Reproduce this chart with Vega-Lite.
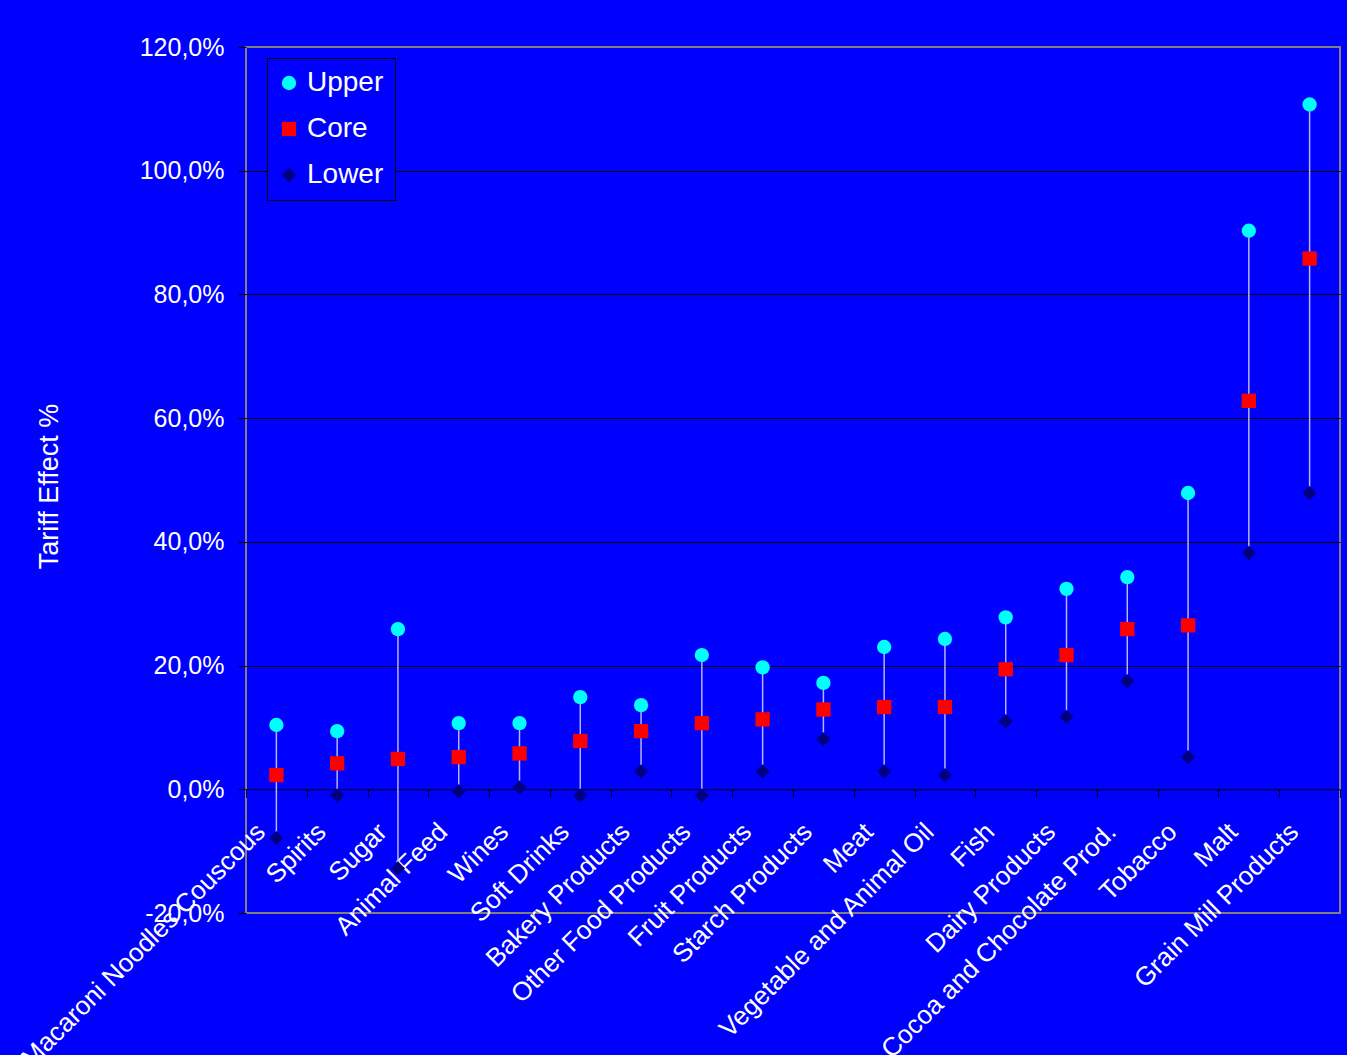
{
  "$schema": "https://vega.github.io/schema/vega-lite/v6.json",
  "width": 1094,
  "height": 866,
  "autosize": {"type": "none"},
  "padding": {"left": 246, "top": 47, "right": 7, "bottom": 142},
  "background": "#0000FF",
  "config": {
    "font": "Liberation Sans",
    "view": {"stroke": "#808080", "strokeWidth": 2}
  },
  "data": {
    "values": [
      {"category": "Macaroni Noodles Couscous", "Upper": 10.4, "Core": 2.3, "Lower": -7.9},
      {"category": "Spirits", "Upper": 9.4, "Core": 4.2, "Lower": -1.0},
      {"category": "Sugar", "Upper": 25.9, "Core": 4.9, "Lower": -12.8},
      {"category": "Animal Feed", "Upper": 10.7, "Core": 5.2, "Lower": -0.3},
      {"category": "Wines", "Upper": 10.7, "Core": 5.8, "Lower": 0.3},
      {"category": "Soft Drinks", "Upper": 14.9, "Core": 7.8, "Lower": -1.0},
      {"category": "Bakery Products", "Upper": 13.6, "Core": 9.4, "Lower": 2.9},
      {"category": "Other Food Products", "Upper": 21.7, "Core": 10.7, "Lower": -1.0},
      {"category": "Fruit Products", "Upper": 19.7, "Core": 11.3, "Lower": 2.9},
      {"category": "Starch Products", "Upper": 17.2, "Core": 12.9, "Lower": 8.1},
      {"category": "Meat", "Upper": 23.0, "Core": 13.3, "Lower": 2.9},
      {"category": "Vegetable and Animal Oil", "Upper": 24.3, "Core": 13.3, "Lower": 2.3},
      {"category": "Fish", "Upper": 27.8, "Core": 19.4, "Lower": 11.0},
      {"category": "Dairy Products", "Upper": 32.4, "Core": 21.7, "Lower": 11.7},
      {"category": "Cocoa and Chocolate Prod.", "Upper": 34.3, "Core": 25.9, "Lower": 17.5},
      {"category": "Tobacco", "Upper": 47.9, "Core": 26.5, "Lower": 5.2},
      {"category": "Malt", "Upper": 90.3, "Core": 62.8, "Lower": 38.2},
      {"category": "Grain Mill Products", "Upper": 110.7, "Core": 85.8, "Lower": 47.9}
    ]
  },
  "encoding": {
    "x": {
      "field": "category",
      "type": "nominal",
      "sort": null,
      "title": null,
      "scale": {"paddingInner": 0, "paddingOuter": 0},
      "axis": {
        "offset": -123.71,
        "domainColor": "black",
        "domainWidth": 1,
        "tickColor": "black",
        "tickSize": 8,
        "tickBand": "extent",
        "labelAngle": -45,
        "labelAlign": "right",
        "labelBaseline": "top",
        "labelPadding": 21,
        "labelOffset": -25,
        "labelFontSize": 26,
        "labelColor": "white",
        "labelLimit": 1000,
        "labelOverlap": false,
        "labelBound": false,
        "grid": false
      }
    }
  },
  "layer": [
    {
      "mark": {"type": "rule", "color": "#b4b4ff", "strokeWidth": 1.5},
      "encoding": {
        "y": {
          "field": "Lower",
          "type": "quantitative",
          "title": "Tariff Effect %",
          "scale": {"domain": [-20, 120], "nice": false, "zero": false},
          "axis": {
            "values": [-20, 0, 20, 40, 60, 80, 100, 120],
            "labelExpr": "replace(replace(format(datum.value, '.1f'), '.', ','), '\u2212', '-') + '%'",
            "domain": false,
            "tickColor": "black",
            "tickSize": 8,
            "labelPadding": 14,
            "labelFontSize": 25,
            "labelColor": "white",
            "grid": true,
            "gridColor": "black",
            "gridWidth": 1,
            "gridOpacity": {"condition": {"test": "datum.value === -20 || datum.value === 120 || datum.value === 0", "value": 0}, "value": 1},
            "titleFontSize": 27,
            "titleFontWeight": "normal",
            "titleColor": "white",
            "titleAngle": 270,
            "titleBaseline": "alphabetic",
            "titleAlign": "center",
            "titleX": -189,
            "titleY": 439
          }
        },
        "y2": {"field": "Upper"}
      }
    },
    {
      "transform": [{"fold": ["Upper", "Core", "Lower"], "as": ["series", "value"]}],
      "mark": {"type": "point", "filled": true, "size": 205, "opacity": 1, "strokeWidth": 0},
      "encoding": {
        "y": {"field": "value", "type": "quantitative", "title": "Tariff Effect %"},
        "color": {
          "field": "series",
          "type": "nominal",
          "scale": {"domain": ["Upper", "Core", "Lower"], "range": ["#00FFFF", "#FF0000", "#000080"]},
          "legend": {
            "title": null,
            "orient": "none",
            "legendX": 21,
            "legendY": 11,
            "fillColor": "#0000FF",
            "strokeColor": "black",
            "padding": 11,
            "labelFontSize": 28,
            "labelColor": "white",
            "symbolSize": 205,
            "symbolStrokeWidth": 0,
            "symbolOffset": -3,
            "rowPadding": 18,
            "labelOffset": 4
          }
        },
        "shape": {
          "field": "series",
          "type": "nominal",
          "scale": {"domain": ["Upper", "Core", "Lower"], "range": ["circle", "square", "diamond"]},
          "legend": {
            "title": null,
            "orient": "none",
            "legendX": 21,
            "legendY": 11,
            "fillColor": "#0000FF",
            "strokeColor": "black",
            "padding": 11,
            "labelFontSize": 28,
            "labelColor": "white",
            "symbolSize": 205,
            "symbolStrokeWidth": 0,
            "symbolOffset": -3,
            "rowPadding": 18,
            "labelOffset": 4
          }
        }
      }
    }
  ]
}
